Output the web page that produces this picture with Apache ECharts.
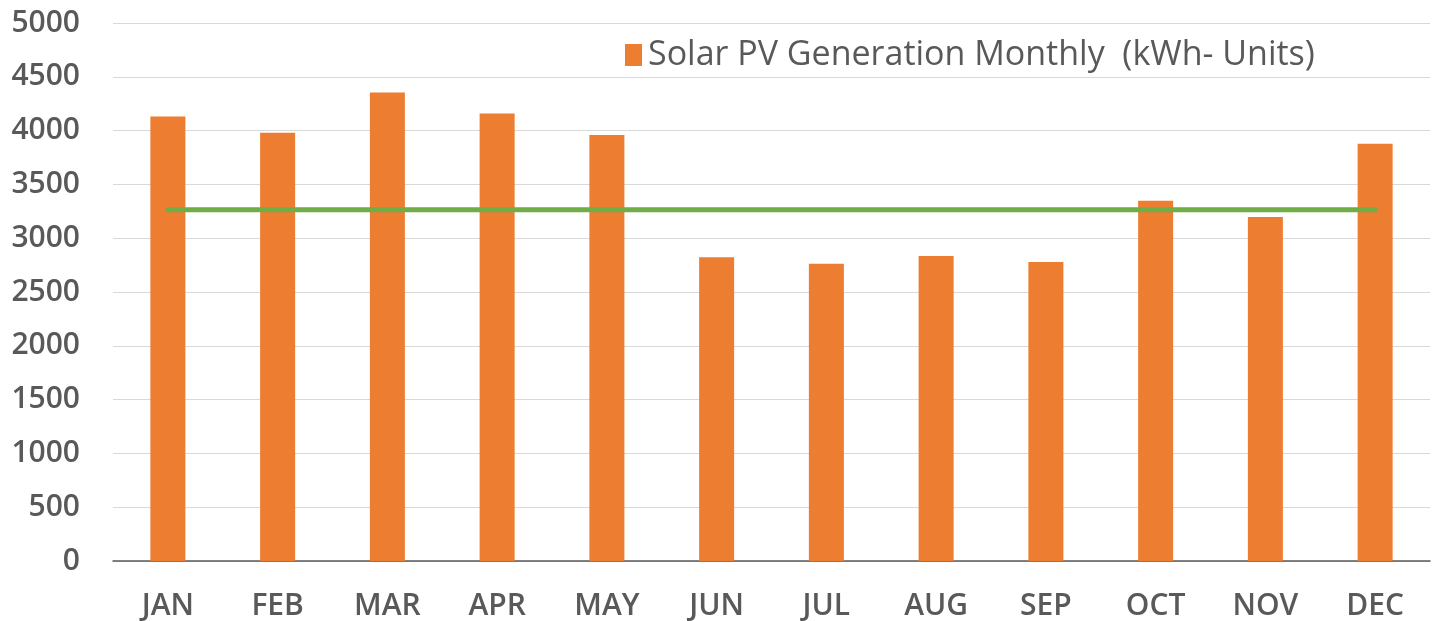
<!DOCTYPE html>
<html>
<head>
<meta charset="utf-8">
<script src="https://cdn.jsdelivr.net/npm/echarts@6/dist/echarts.min.js"></script>
<style>
html,body{margin:0;padding:0;background:#fff;}
#chart{width:1440px;height:621px;}
</style>
</head>
<body>
<div id="chart"></div>
<script>
const months = ['JAN','FEB','MAR','APR','MAY','JUN','JUL','AUG','SEP','OCT','NOV','DEC'];
const generation = [4130, 3979, 4353, 4158, 3960, 2822, 2763, 2835, 2779, 3348, 3197, 3877];
const referenceLine = [3265, 3265, 3265, 3265, 3265, 3265, 3265, 3265, 3265, 3265, 3265, 3265];
const yTicks = [0, 500, 1000, 1500, 2000, 2500, 3000, 3500, 4000, 4500, 5000];
const seriesName = 'Solar PV Generation Monthly  (kWh- Units)';

const chart = echarts.init(document.getElementById('chart'), null, {renderer: 'canvas'});
chart.setOption({
  animation: false,
  backgroundColor: '#ffffff',
  textStyle: {fontFamily: 'Open Sans'},
  grid: {left: 113, right: 10, top: 23, bottom: 59.3, containLabel: false},
  legend: {
    data: [seriesName],
    left: 625, top: 38, padding: 0,
    itemWidth: 17, itemHeight: 22, itemGap: 10,
    icon: 'rect',
    textStyle: {fontFamily: 'Open Sans', fontSize: 34, color: '#595959', padding: [0,0,0,1]}
  },
  xAxis: {
    type: 'category',
    data: months,
    boundaryGap: true,
    axisLine: {show: true, lineStyle: {color: '#595959', width: 1.5}},
    axisTick: {show: false},
    axisLabel: {fontFamily: 'Open Sans', fontWeight: 600, fontSize: 30, color: '#595959', margin: 30}
  },
  yAxis: {
    type: 'value',
    min: yTicks[0], max: yTicks[yTicks.length-1], interval: yTicks[1]-yTicks[0],
    axisLine: {show: false},
    axisTick: {show: false},
    splitLine: {lineStyle: {color: '#d9d9d9', width: 1.2}},
    axisLabel: {fontFamily: 'Open Sans', fontWeight: 600, fontSize: 30, color: '#595959', margin: 33,
      formatter: function (v) { return String(v); }}
  },
  series: [
    {
      name: seriesName,
      type: 'bar',
      data: generation,
      barWidth: 35,
      itemStyle: {color: '#ED7D31'}
    },
    {
      name: 'ref',
      type: 'line',
      data: referenceLine,
      symbol: 'none',
      lineStyle: {color: '#70AD47', width: 5, cap: 'round'},
      z: 3
    }
  ]
});
</script>
</body>
</html>
